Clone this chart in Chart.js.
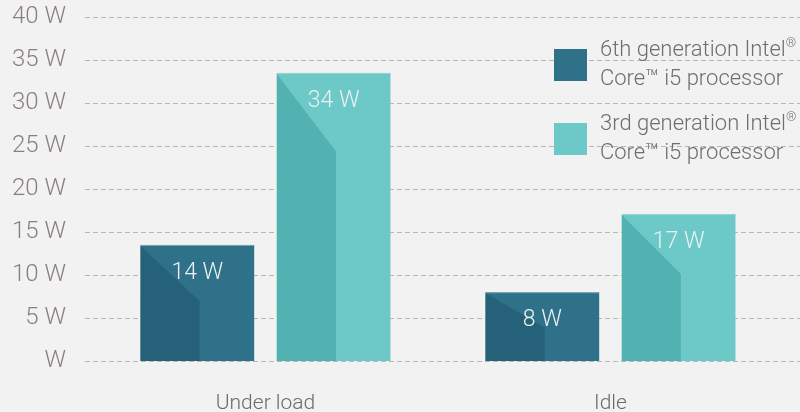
<!DOCTYPE html>
<html>
<head>
<meta charset="utf-8">
<script src="https://cdn.jsdelivr.net/npm/chart.js@4.4.1/dist/chart.umd.min.js"></script>
<style>
  body { margin: 0; background: #f2f2f2; }
  #wrap { position: relative; width: 800px; height: 412px; }
  .legend-box { position: absolute; left: 554px; width: 33px; height: 32px; }
  .legend-text { position: absolute; left: 600px; font: 300 22px Roboto, sans-serif; color: #6e6e6e; line-height: 26px; white-space: nowrap; }
  .legend-text sup { font-size: 13px; vertical-align: 0; position: relative; top: -9px; }
</style>
</head>
<body>
<div id="wrap">
  <canvas id="powerChart"></canvas>
</div>
<script>
document.addEventListener('DOMContentLoaded', (event) => {

    // categories and series
    var categories = ['Under load', 'Idle'];
    var seriesNames = ['6th generation Intel® Core™ i5 processor', '3rd generation Intel® Core™ i5 processor'];
    // bar heights as drawn (W)
    var sixthGen = [13.5, 8];
    var thirdGen = [33.5, 17.1];
    // printed value labels (W)
    var sixthGenLabels = [14, 8];
    var thirdGenLabels = [34, 17];
    var yTicks = [0, 5, 10, 15, 20, 25, 30, 35, 40];

    var mainColors = ['#2f7189', '#6dc9c7'];
    var shadeColors = ['#256279', '#52b1b1'];
    var edgeColors = ['#7fa8b8', '#98d6d4'];
    var valueLabels = [sixthGenLabels, thirdGenLabels];

    // build html legend
    var wrap = document.getElementById('wrap');
    seriesNames.forEach(function (name, i) {
        var top = [49, 123][i];
        var box = document.createElement('div');
        box.className = 'legend-box';
        box.style.top = top + 'px';
        box.style.background = mainColors[i];
        wrap.appendChild(box);
        var txt = document.createElement('div');
        txt.className = 'legend-text';
        txt.style.top = (top - 13) + 'px';
        var parts = name.split('® ');
        txt.innerHTML = parts[0] + '<sup>®</sup><br>' + parts[1];
        wrap.appendChild(txt);
    });

    // dashed grid, bar shading and value labels
    var decor = {
        id: 'decor',
        beforeDatasetsDraw: function (chart) {
            var ctx = chart.ctx;
            var y = chart.scales.y;
            ctx.save();
            ctx.strokeStyle = '#bdb4b4';
            ctx.lineWidth = 1;
            ctx.setLineDash([5, 3]);
            yTicks.forEach(function (v) {
                var py = Math.round(y.getPixelForValue(v)) + 0.5;
                ctx.beginPath();
                ctx.moveTo(85, py);
                ctx.lineTo(800, py);
                ctx.stroke();
            });
            ctx.restore();
        },
        afterDatasetsDraw: function (chart) {
            var ctx = chart.ctx;
            chart.data.datasets.forEach(function (ds, i) {
                chart.getDatasetMeta(i).data.forEach(function (bar, j) {
                    var p = bar.getProps(['x', 'y', 'base', 'width'], true);
                    var left = p.x - p.width / 2;
                    var h = p.base - p.y;
                    var dx = p.width * 0.52;
                    var dy = Math.min(h * 0.5, 40 + h * 0.13);
                    ctx.save();
                    // top edge
                    ctx.fillStyle = edgeColors[i];
                    ctx.fillRect(left, p.y, p.width, 1);
                    // shade
                    ctx.fillStyle = shadeColors[i];
                    ctx.beginPath();
                    ctx.moveTo(left, p.y + 1);
                    ctx.lineTo(left + dx, p.y + 1 + dy);
                    ctx.lineTo(left + dx, p.base);
                    ctx.lineTo(left, p.base);
                    ctx.closePath();
                    ctx.fill();
                    // value label
                    ctx.fillStyle = '#e9f1f2';
                    ctx.font = '300 23px Roboto, sans-serif';
                    ctx.textAlign = 'center';
                    ctx.textBaseline = 'alphabetic';
                    ctx.fillText(valueLabels[i][j] + ' W', p.x, p.y + 34);
                    ctx.restore();
                });
            });
        }
    };

    var ctx = document.getElementById('powerChart').getContext('2d');

    var powerChart = new Chart(ctx, {
        type: 'bar',
        data: {
            labels: categories,
            datasets: [{
                label: seriesNames[0],
                data: sixthGen,
                backgroundColor: mainColors[0]
            }, {
                label: seriesNames[1],
                data: thirdGen,
                backgroundColor: mainColors[1]
            }]
        },
        options: {
            responsive: true,
            maintainAspectRatio: false,
            animation: false,
            categoryPercentage: 0.79,
            barPercentage: 0.834,
            layout: {
                padding: { top: 17, right: 17, left: 0, bottom: 0 }
            },
            plugins: {
                legend: { display: false },
                tooltip: { enabled: false }
            },
            scales: {
                x: {
                    grid: { display: false, drawTicks: false },
                    border: { display: false },
                    ticks: {
                        color: '#6a6a6a',
                        font: { family: 'Roboto', weight: 300, size: 21 },
                        padding: 30
                    },
                    afterFit: function (scale) {
                        scale.height = 51;
                        scale.paddingLeft = 0;
                        scale.paddingRight = 0;
                    }
                },
                y: {
                    min: 0,
                    max: 40,
                    grid: { display: false, drawTicks: false },
                    border: { display: false },
                    ticks: {
                        stepSize: 5,
                        color: '#8a7f7f',
                        font: { family: 'Roboto', weight: 300, size: 24 },
                        padding: 27,
                        callback: function (value) {
                            return value === 0 ? 'W' : value + ' W';
                        }
                    },
                    afterFit: function (scale) {
                        scale.width = 93;
                        scale.paddingTop = 0;
                        scale.paddingBottom = 0;
                    }
                }
            }
        },
        plugins: [decor]
    });
});
</script>
</body>
</html>
